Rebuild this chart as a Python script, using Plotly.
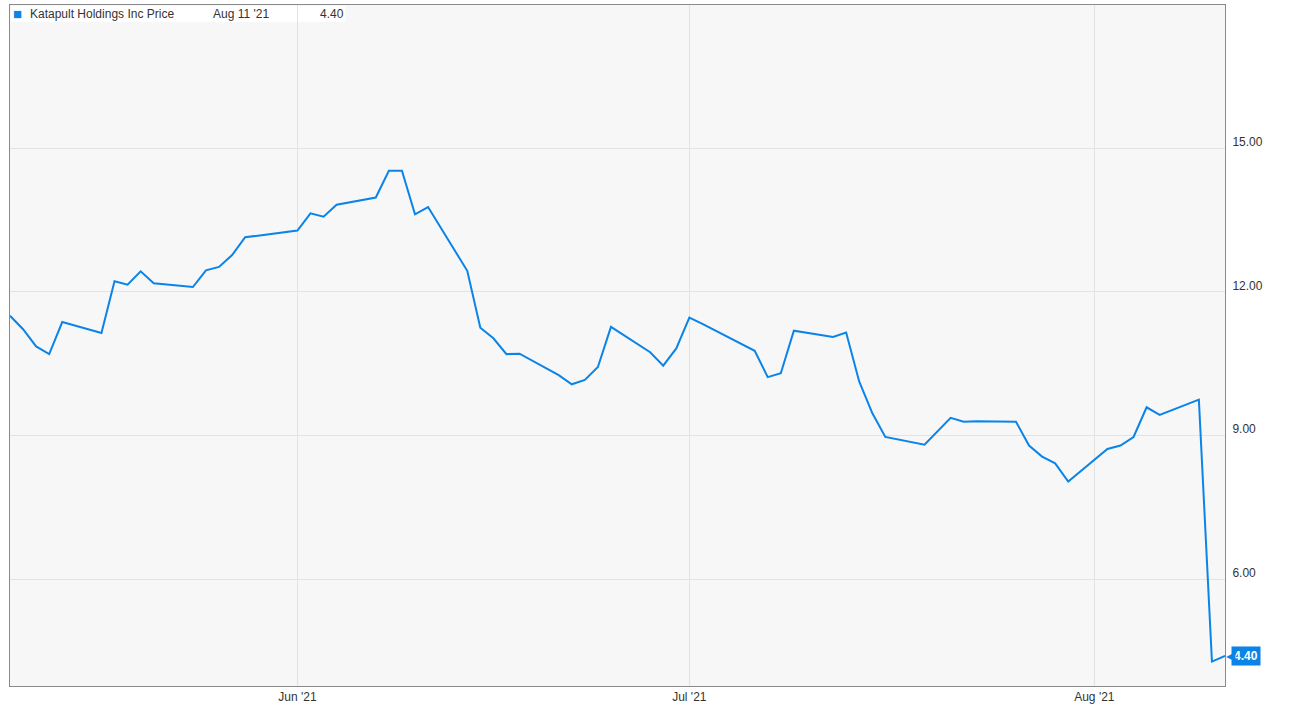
import pandas as pd
import plotly.graph_objects as go

BLUE = "#0a84e8"
BACKGROUND = "#f7f7f7"
GRID = "#e3e3e3"
AXIS = "#8a8a8a"
TEXT = "#333333"

dates = [
    "2021-05-10", "2021-05-11", "2021-05-12", "2021-05-13", "2021-05-14",
    "2021-05-17", "2021-05-18", "2021-05-19", "2021-05-20", "2021-05-21",
    "2021-05-24", "2021-05-25", "2021-05-26", "2021-05-27", "2021-05-28",
    "2021-06-01", "2021-06-02", "2021-06-03", "2021-06-04",
    "2021-06-07", "2021-06-08", "2021-06-09", "2021-06-10", "2021-06-11",
    "2021-06-14", "2021-06-15", "2021-06-16", "2021-06-17", "2021-06-18",
    "2021-06-21", "2021-06-22", "2021-06-23", "2021-06-24", "2021-06-25",
    "2021-06-28", "2021-06-29", "2021-06-30", "2021-07-01", "2021-07-02",
    "2021-07-06", "2021-07-07", "2021-07-08", "2021-07-09",
    "2021-07-12", "2021-07-13", "2021-07-14", "2021-07-15", "2021-07-16",
    "2021-07-19", "2021-07-20", "2021-07-21", "2021-07-22", "2021-07-23",
    "2021-07-26", "2021-07-27", "2021-07-28", "2021-07-29", "2021-07-30",
    "2021-08-02", "2021-08-03", "2021-08-04", "2021-08-05", "2021-08-06",
    "2021-08-09", "2021-08-10", "2021-08-11",
]
prices = [
    11.50, 11.22, 10.86, 10.70, 11.37,
    11.14, 12.22, 12.15, 12.43, 12.18,
    12.10, 12.45, 12.52, 12.77, 13.14,
    13.28, 13.64, 13.57, 13.82,
    13.97, 14.53, 14.53, 13.62, 13.77,
    12.44, 11.25, 11.03, 10.70, 10.71,
    10.26, 10.07, 10.16, 10.43, 11.27,
    10.74, 10.46, 10.82, 11.46, 11.33,
    10.77, 10.22, 10.30, 11.19,
    11.06, 11.15, 10.13, 9.47, 8.97,
    8.81, 9.08, 9.37, 9.29, 9.30,
    9.29, 8.79, 8.56, 8.42, 8.04,
    8.72, 8.79, 8.97, 9.59, 9.43,
    9.75, 4.28, 4.40,
]
x_tickvals = ["2021-06-01", "2021-07-01", "2021-08-01"]
x_ticktext = ["Jun '21", "Jul '21", "Aug '21"]
y_tickvals = [6, 9, 12, 15]

series_name = "Katapult Holdings Inc Price"
last_date_label = "Aug 11 '21"

df = pd.DataFrame({"date": pd.to_datetime(dates), "price": prices})
last = df.iloc[-1]

fig = go.Figure()
fig.add_trace(go.Scatter(
    x=df["date"], y=df["price"],
    mode="lines",
    line=dict(color=BLUE, width=2),
    name=series_name,
    hovertemplate="%{x|%b %d '%y}<br>%{y:.2f}<extra></extra>",
))

# legend header strip (top-left)
fig.add_shape(
    type="rect", xref="paper", yref="paper",
    x0=0.0008, x1=0.276, y0=0.975, y1=0.9985,
    fillcolor="white", line_width=0, layer="below",
)
header = [(1, "■", BLUE, 15), (18, series_name, TEXT, 12),
          (201, last_date_label, TEXT, 12), (308, f"{last['price']:.2f}", TEXT, 12)]
for shift, txt, col, size in header:
    fig.add_annotation(xref="paper", yref="paper", x=0, y=0.987,
                       xanchor="left", yanchor="middle", xshift=shift,
                       text=txt, showarrow=False,
                       font=dict(color=col, size=size))

# last value flag
fig.add_annotation(x=last["date"], y=last["price"], xanchor="left", yanchor="middle",
                   xshift=6, text=f"<b>{last['price']:.2f}</b>", showarrow=False,
                   bgcolor=BLUE, borderpad=2,
                   font=dict(color="white", size=12))
fig.add_annotation(x=last["date"], y=last["price"], xanchor="left", yanchor="middle",
                   xshift=-1, text="◀", showarrow=False,
                   font=dict(color=BLUE, size=12))

fig.update_layout(
    width=1289, height=709,
    paper_bgcolor="white", plot_bgcolor=BACKGROUND,
    font=dict(family="Arial, Liberation Sans, sans-serif", color=TEXT, size=12),
    margin=dict(l=10, r=64, t=5, b=23),
    showlegend=False,
    xaxis=dict(
        range=[pd.Timestamp("2021-05-10"), pd.Timestamp("2021-08-11")],
        tickvals=pd.to_datetime(x_tickvals), ticktext=x_ticktext,
        showgrid=True, gridcolor=GRID, gridwidth=1,
        showline=True, linecolor=AXIS, linewidth=1, mirror=True,
        ticks="", zeroline=False,
        tickfont=dict(size=12, color=TEXT),
    ),
    yaxis=dict(
        range=[3.77, 17.99], side="right",
        tickvals=y_tickvals, tickformat=".2f",
        ticklabelposition="outside top",
        ticklabelstandoff=4, ticklabelshift=2,
        showgrid=True, gridcolor=GRID, gridwidth=1,
        showline=True, linecolor=AXIS, linewidth=1, mirror=True,
        ticks="", zeroline=False,
        tickfont=dict(size=12, color=TEXT),
    ),
)

fig.write_html("out.html", config={"displayModeBar": False},
               post_script="document.body.style.margin='0';")
